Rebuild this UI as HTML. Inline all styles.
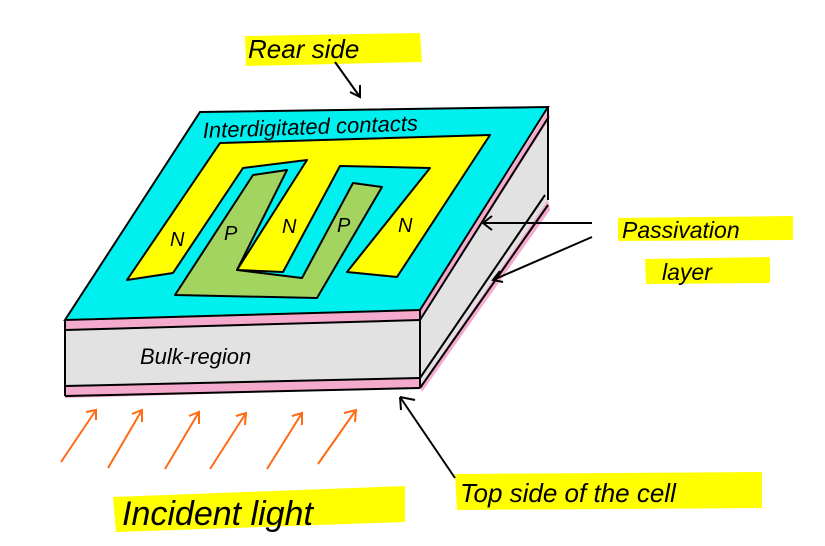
<!DOCTYPE html>
<html><head><meta charset="utf-8"><style>
html,body{margin:0;padding:0;background:#fff;}
svg{display:block;}
text{font-family:"Liberation Sans",sans-serif;font-style:italic;fill:#000;}
</style></head><body>
<svg width="825" height="546" viewBox="0 0 825 546" xmlns="http://www.w3.org/2000/svg">
<!-- highlights -->
<polygon points="245,36 420,33 422,62 246,66" fill="#ffff00"/>
<polygon points="618,218 793,216 793,240 618,241" fill="#ffff00"/>
<polygon points="645,259 770,257 770,283 646,284" fill="#ffff00"/>
<polygon points="455,474 762,472 762,508 457,510" fill="#ffff00"/>
<polygon points="113,497 405,486 405,522 116,532" fill="#ffff00"/>

<!-- right face -->
<polygon points="420,312 548,110 548,200 420,386" fill="#e2e2e2"/>
<polygon points="420,386 548,200 550,210 422,392" fill="#f4aacd"/>
<polygon points="420,312 548,110 550,118 422,318" fill="#f4aacd"/>
<!-- front face -->
<polygon points="65,320 420,310 420,386 65,396" fill="#e2e2e2"/>
<polygon points="65,320 420,310 420,320 65,330" fill="#f4aacd"/>
<polygon points="65,386 420,378 420,388 65,398" fill="#f4aacd"/>
<!-- top face -->
<polygon points="200,112 548,107 420,310 65,320" fill="#00f0f0"/>
<polygon points="200,112 548,107 420,310 65,320" fill="none" stroke="#000" stroke-width="2"/>
<!-- yellow N comb -->
<polygon points="220,143 490,135 397,277 347,272 430,168 340,166 283,272 237,270 307,160 243,168 173,273 127,280" fill="#ffff00" stroke="#000" stroke-width="2" stroke-linejoin="round"/>
<!-- green P comb -->
<polygon points="253,175 287,170 237,270 302,278 353,183 382,187 317,298 175,295" fill="#a3d45f" stroke="#000" stroke-width="2" stroke-linejoin="round"/>
<!-- edges -->
<g fill="none" stroke="#000" stroke-width="2">
<line x1="65" y1="320" x2="65" y2="396"/>
<line x1="420" y1="310" x2="420" y2="388"/>
<line x1="548" y1="107" x2="548" y2="200"/>
<line x1="65" y1="330" x2="420" y2="320"/>
<line x1="65" y1="386" x2="420" y2="378"/>
<line x1="65" y1="396" x2="420" y2="388"/>
<line x1="420" y1="320" x2="548" y2="118"/>
<line x1="420" y1="378" x2="545" y2="195"/>
<line x1="420" y1="388" x2="548" y2="205"/>
<!-- pointers -->
<path d="M335,62 L360,97 M350,92 L360,97 L360,85"/>
<path d="M592,223 L483,223 M492,216 L483,223 L492,230"/>
<path d="M592,237 L493,280 M500,271 L493,280 L503,282"/>
<path d="M455,478 L400,397 M400,397 L415,400 M400,397 L401,410"/>
</g>
<!-- orange arrows -->
<g fill="none" stroke="#ff6a13" stroke-width="2">
<path d="M61,462 L96,410 M86,412 L96,410 L96,420"/>
<path d="M108,468 L142,410 M132,414 L142,410 L142,422"/>
<path d="M165,469 L199,412 M189,416 L199,412 L199,424"/>
<path d="M210,469 L246,413 M236,416 L246,413 L245,425"/>
<path d="M267,469 L302,413 M292,416 L302,413 L302,425"/>
<path d="M318,464 L356,410 M344,413 L356,410 L355,422"/>
</g>
<!-- labels -->
<text x="248" y="58" font-size="26">Rear side</text>
<text x="203" y="138" font-size="22" transform="rotate(-2 203 138)">Interdigitated contacts</text>
<text x="170" y="246" font-size="20">N</text>
<text x="224" y="240" font-size="20">P</text>
<text x="282" y="233" font-size="20">N</text>
<text x="337" y="232" font-size="20">P</text>
<text x="398" y="232" font-size="20">N</text>
<text x="140" y="364" font-size="22">Bulk-region</text>
<text x="622" y="238" font-size="23">Passivation</text>
<text x="662" y="280" font-size="23">layer</text>
<text x="460" y="502" font-size="26">Top side of the cell</text>
<text x="122" y="525" font-size="34">Incident light</text>
</svg>
</body></html>
